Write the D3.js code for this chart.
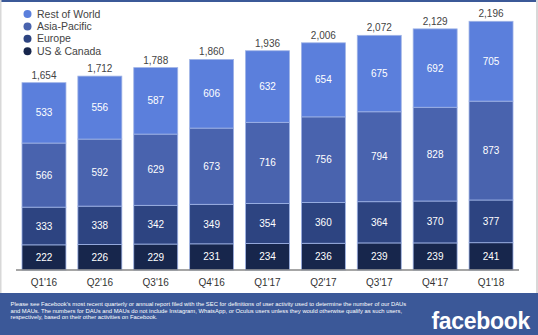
<!DOCTYPE html>
<html><head><meta charset="utf-8">
<script src="https://cdn.jsdelivr.net/npm/d3@7"></script>
<style>
html,body{margin:0;padding:0;background:#fff;}
svg{display:block;font-family:"Liberation Sans",Arial,sans-serif;}
</style></head>
<body>
<script>
const categories = ["Q1'16","Q2'16","Q3'16","Q4'16","Q1'17","Q2'17","Q3'17","Q4'17","Q1'18"];
const usCanada = [222,226,229,231,234,236,239,239,241];
const europe = [333,338,342,349,354,360,364,370,377];
const asiaPacific = [566,592,629,673,716,756,794,828,873];
const restOfWorld = [533,556,587,606,632,654,675,692,705];
const totals = [1654,1712,1788,1860,1936,2006,2072,2129,2196];
const seriesNames = ["US & Canada","Europe","Asia-Pacific","Rest of World"];
const seriesColors = ["#17264c","#2d4481","#4963ae","#5b7fdc"];
const footnote = [
 "Please see Facebook's most recent quarterly or annual report filed with the SEC for definitions of user activity used to determine the number of our DAUs",
 "and MAUs. The numbers for DAUs and MAUs do not include Instagram, WhatsApp, or Oculus users unless they would otherwise qualify as such users,",
 "respectively, based on their other activities on Facebook."
];

const W = 538, H = 335;
const svg = d3.select("body").append("svg").attr("width", W).attr("height", H);

// frame
svg.append("rect").attr("x",0).attr("y",0).attr("width",W).attr("height",2).attr("fill","#3b5998");
svg.append("rect").attr("x",0).attr("y",0).attr("width",1.5).attr("height",293).attr("fill","#d8d8d8");
svg.append("rect").attr("x",W-2).attr("y",0).attr("width",2).attr("height",293).attr("fill","#d8d8d8");

const data = categories.map((c,i)=>({cat:c, "US & Canada":usCanada[i], "Europe":europe[i], "Asia-Pacific":asiaPacific[i], "Rest of World":restOfWorld[i], total:totals[i]}));
const stack = d3.stack().keys(seriesNames)(data);

const x = d3.scaleBand().domain(categories).range([16, 519]).paddingInner(0.213).paddingOuter(0.107);
const y = d3.scaleLinear().domain([0, 2384]).range([270, 0]);

const g = svg.append("g");
stack.forEach((s,si)=>{
  g.selectAll(null).data(s).enter().append("rect")
    .attr("x", d=>x(d.data.cat))
    .attr("y", d=>y(d[1]))
    .attr("width", x.bandwidth())
    .attr("height", d=>y(d[0])-y(d[1]))
    .attr("fill", seriesColors[si])
    .attr("stroke", "#9fb3e6").attr("stroke-width", 0.8);
  g.selectAll(null).data(s).enter().append("text")
    .attr("x", d=>x(d.data.cat)+x.bandwidth()/2)
    .attr("y", d=>(y(d[0])+y(d[1]))/2)
    .attr("dy","0.35em")
    .attr("text-anchor","middle")
    .attr("fill","#ffffff")
    .attr("font-size","10px")
    .text(d=>d[1]-d[0]);
});

// totals
g.selectAll(null).data(data).enter().append("text")
  .attr("x", d=>x(d.cat)+x.bandwidth()/2)
  .attr("y", d=>y(d.total)-4)
  .attr("text-anchor","middle")
  .attr("fill","#444")
  .attr("font-size","10px")
  .text(d=>d3.format(",")(d.total));

// axis
const xAxis = d3.axisBottom(x).tickSize(0).tickPadding(9);
const ax = svg.append("g").attr("transform","translate(0,270)").call(xAxis);
ax.select(".domain").attr("stroke","#888").attr("stroke-width",1.5).attr("d","M16,0H519");
ax.selectAll("text").attr("font-size","10px").attr("fill","#333").attr("font-family","Liberation Sans, Arial, sans-serif");

// legend
const legendOrder = ["Rest of World","Asia-Pacific","Europe","US & Canada"];
const lg = svg.append("g");
legendOrder.forEach((n,i)=>{
  const ci = seriesNames.indexOf(n);
  lg.append("circle").attr("cx",27.5).attr("cy",14+i*12.4).attr("r",4).attr("fill",seriesColors[ci]);
  lg.append("text").attr("x",37).attr("y",14+i*12.4).attr("dy","0.35em").attr("font-size","10.5px").attr("fill","#444").text(n);
});

// footer
svg.append("rect").attr("x",0).attr("y",293).attr("width",W).attr("height",H-293).attr("fill","#3b5898");
footnote.forEach((t,i)=>{
  svg.append("text").attr("x",10.5).attr("y",306+i*6.5).attr("font-size","5.85px").attr("fill","#ffffff").text(t);
});
svg.append("text").attr("x",530).attr("y",329).attr("text-anchor","end")
  .attr("font-size","23px").attr("font-weight","bold").attr("fill","#ffffff")
  .attr("letter-spacing","-0.3px")
  .text("facebook");
</script>
</body></html>
